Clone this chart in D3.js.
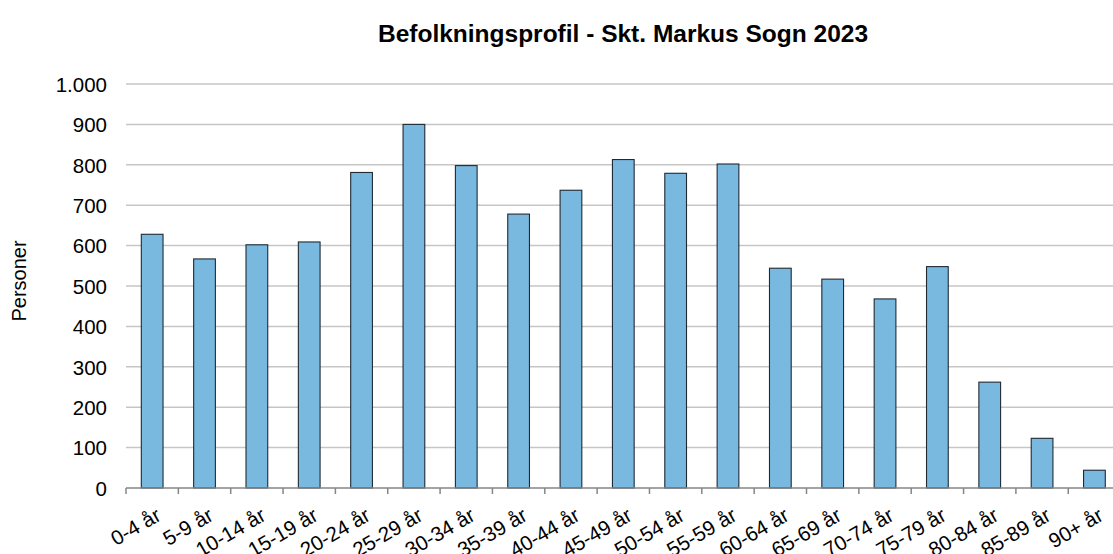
<!DOCTYPE html>
<html>
<head>
<meta charset="utf-8">
<script src="https://cdn.jsdelivr.net/npm/d3@7"></script>
<style>
  html, body { margin: 0; padding: 0; background: #fff; }
  svg { display: block; font-family: "Liberation Sans", Arial, sans-serif; }
</style>
</head>
<body>
<svg id="chart" width="1113" height="554"></svg>
<script>
const categories = ["0-4 år","5-9 år","10-14 år","15-19 år","20-24 år","25-29 år","30-34 år","35-39 år","40-44 år","45-49 år","50-54 år","55-59 år","60-64 år","65-69 år","70-74 år","75-79 år","80-84 år","85-89 år","90+ år"];
const values = [628, 567, 602, 609, 781, 900, 798, 678, 737, 813, 779, 802, 544, 517, 468, 548, 262, 123, 44];
const yTicks = [0, 100, 200, 300, 400, 500, 600, 700, 800, 900, 1000];
const yTickLabels = ["0","100","200","300","400","500","600","700","800","900","1.000"];
const chartTitle = "Befolkningsprofil - Skt. Markus Sogn 2023";
const yTitle = "Personer";

const svg = d3.select("#chart");
const mLeft = 126, mRight = 1120.6, mTop = 84, mBottom = 488;

const x = d3.scaleBand().domain(categories).range([mLeft, mRight]).paddingInner(0.585).paddingOuter(0.2925);
const y = d3.scaleLinear().domain([0, 1000]).range([mBottom, mTop]);

// gridlines
svg.append("g").selectAll("line").data(yTicks.filter(d => d > 0)).join("line")
  .attr("x1", mLeft).attr("x2", mRight)
  .attr("y1", d => y(d)).attr("y2", d => y(d))
  .attr("stroke", "#c6c6c6").attr("stroke-width", 1.5);

// bars
svg.append("g").selectAll("rect").data(values).join("rect")
  .attr("x", (d, i) => x(categories[i]))
  .attr("width", x.bandwidth())
  .attr("y", d => y(d))
  .attr("height", d => y(0) - y(d))
  .attr("fill", "#7ab9df")
  .attr("stroke", "#1f2a33").attr("stroke-width", 1.1);

// y axis labels
const yAxis = d3.axisLeft(y).tickValues(yTicks).tickSize(0).tickPadding(0)
  .tickFormat((d, i) => yTickLabels[i]);
const gy = svg.append("g").attr("transform", `translate(${107},0)`).call(yAxis);
gy.select(".domain").remove();
gy.selectAll("text").attr("font-size", 20.5).attr("fill", "#000").attr("font-family", "Liberation Sans, Arial, sans-serif").attr("dy", "0.36em");

// x axis line and ticks at band boundaries
const step = x.step();
const boundaries = d3.range(categories.length + 1).map(i => mLeft + i * step);
svg.append("line").attr("x1", mLeft).attr("x2", mRight).attr("y1", mBottom).attr("y2", mBottom)
  .attr("stroke", "#868686").attr("stroke-width", 1.5);
svg.append("g").selectAll("line").data(boundaries).join("line")
  .attr("x1", d => d).attr("x2", d => d).attr("y1", mBottom).attr("y2", mBottom + 6)
  .attr("stroke", "#868686").attr("stroke-width", 1.5);

// x labels
svg.append("g").selectAll("text").data(categories).join("text")
  .attr("transform", d => `translate(${x(d) + x.bandwidth() / 2 + 3},${mBottom + 19}) rotate(-30)`)
  .attr("text-anchor", "end")
  .attr("dy", "0.7em")
  .attr("font-size", 20.5)
  .attr("fill", "#000")
  .text(d => d);

// title
svg.append("text").attr("x", 623).attr("y", 41.5).attr("text-anchor", "middle")
  .attr("font-size", 24.5).attr("font-weight", "bold").attr("fill", "#000").text(chartTitle);

// y title
svg.append("text").attr("transform", "translate(26,281) rotate(-90)")
  .attr("text-anchor", "middle").attr("font-size", 20).attr("fill", "#000").text(yTitle);
</script>
</body>
</html>
